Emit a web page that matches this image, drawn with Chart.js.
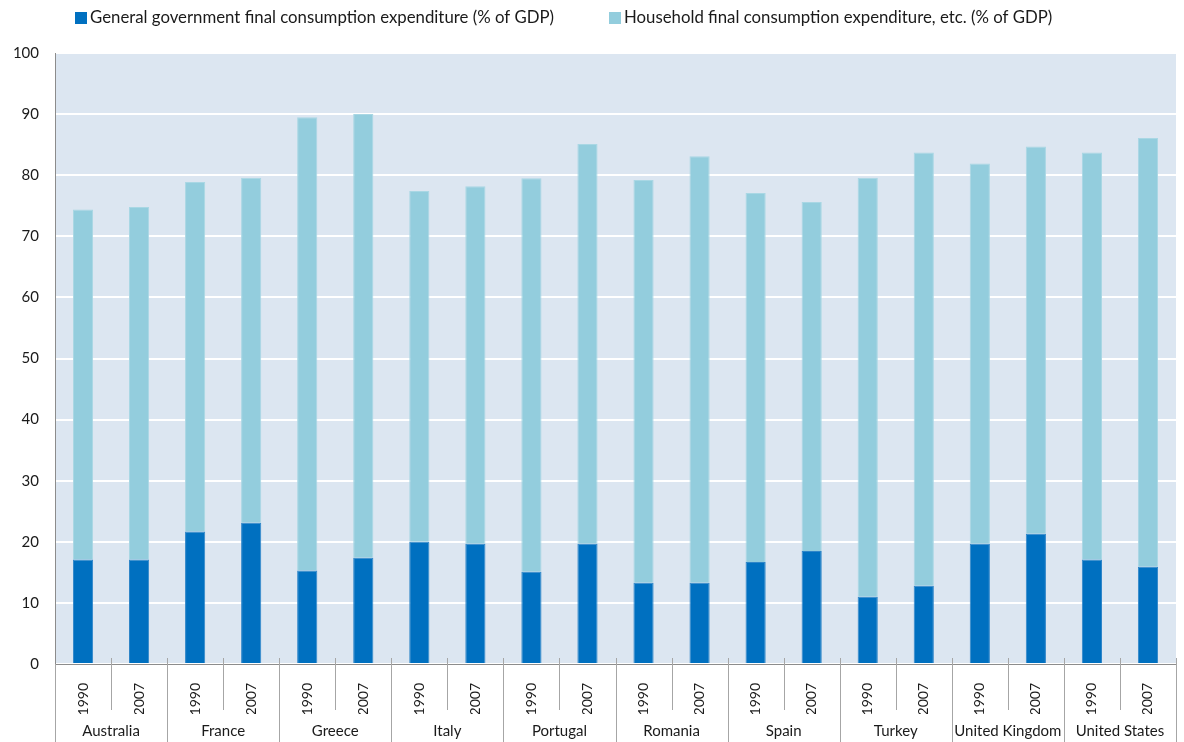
<!DOCTYPE html>
<html>
<head>
<meta charset="utf-8">
<script src="https://cdn.jsdelivr.net/npm/chart.js@4.4.1/dist/chart.umd.min.js"></script>
<style>
  html, body { margin: 0; padding: 0; background: #fff; }
  #wrap { width: 1184px; height: 742px; }
</style>
</head>
<body>
<div id="wrap"><canvas id="chart" width="1184" height="742"></canvas></div>
<script>
const countries = ['Australia', 'France', 'Greece', 'Italy', 'Portugal', 'Romania', 'Spain', 'Turkey', 'United Kingdom', 'United States'];
const years = ['1990', '2007'];
const government = [17.1, 17.1, 21.7, 23.1, 15.3, 17.4, 20.0, 19.7, 15.1, 19.7, 13.3, 13.3, 16.7, 18.5, 11.0, 12.8, 19.7, 21.3, 17.1, 15.9];
const household = [57.3, 57.7, 57.2, 56.5, 74.2, 72.6, 57.4, 58.5, 64.4, 65.4, 65.9, 69.8, 60.4, 57.1, 68.6, 70.9, 62.2, 63.4, 66.6, 70.2];
const yTicks = [0, 10, 20, 30, 40, 50, 60, 70, 80, 90, 100];

const FONT = 'Lato, "Open Sans", sans-serif';
const labels = [];
countries.forEach(c => years.forEach(y => labels.push(y)));

// light blue plot background
const plotBg = {
  id: 'plotBg',
  beforeDraw(chart) {
    const a = chart.chartArea, ctx = chart.ctx;
    ctx.save();
    ctx.fillStyle = '#dce6f1';
    ctx.fillRect(a.left, a.top, a.right - a.left, a.bottom - a.top);
    ctx.restore();
  }
};

// separators for the two-level category axis
const separators = {
  id: 'separators',
  afterDraw(chart) {
    const xs = chart.scales.x, ctx = chart.ctx;
    const bottom = chart.chartArea.bottom;
    ctx.save();
    ctx.strokeStyle = '#a6a6a6';
    ctx.lineWidth = 1;
    for (let i = 0; i <= labels.length; i++) {
      let x;
      if (i === 0) x = chart.chartArea.left;
      else if (i === labels.length) x = chart.chartArea.right;
      else x = (xs.getPixelForValue(i - 1) + xs.getPixelForValue(i)) / 2;
      x = Math.round(x) + 0.5;
      const end = (i % 2 === 0) ? chart.height : bottom + 46;
      ctx.beginPath();
      ctx.moveTo(x, i === 0 ? bottom : bottom - 6);
      ctx.lineTo(x, end);
      ctx.stroke();
    }
    ctx.restore();
  }
};

// legend drawn at top-left, like the original
const topLegend = {
  id: 'topLegend',
  afterDraw(chart) {
    const ctx = chart.ctx;
    const starts = [75, 609];
    ctx.save();
    ctx.font = '16.8px ' + FONT;
    ctx.textBaseline = 'middle';
    chart.data.datasets.forEach((ds, i) => {
      const x = starts[i];
      ctx.fillStyle = ds.backgroundColor;
      ctx.fillRect(x, 12, 12, 12);
      ctx.fillStyle = '#1a1a1a';
      ctx.fillText(ds.label, x + 15, 18);
    });
    ctx.restore();
  }
};

new Chart(document.getElementById('chart'), {
  type: 'bar',
  data: {
    labels: labels,
    datasets: [
      {
        label: 'General government final consumption expenditure (% of GDP)',
        data: government,
        backgroundColor: '#0070c0',
        borderColor: '#2f86c9',
        borderWidth: 1,
        categoryPercentage: 1,
        barPercentage: 0.36
      },
      {
        label: 'Household final consumption expenditure, etc. (% of GDP)',
        data: household,
        backgroundColor: '#93cddd',
        borderColor: '#a9d7e4',
        borderWidth: 1,
        categoryPercentage: 1,
        barPercentage: 0.36
      }
    ]
  },
  options: {
    responsive: false,
    animation: false,
    layout: { padding: { top: 53, left: 0, right: 8, bottom: 0 } },
    plugins: {
      legend: { display: false },
      tooltip: { enabled: false }
    },
    scales: {
      x: {
        stacked: true,
        afterFit(axis) { axis.height = 50; },
        grid: { display: false, drawTicks: false },
        border: { display: true, color: '#8c8c8c', width: 1 },
        ticks: {
          color: '#1a1a1a',
          font: { family: FONT, size: 14 },
          minRotation: 90,
          maxRotation: 90,
          padding: 19,
          autoSkip: false
        }
      },
      x2: {
        type: 'category',
        labels: countries,
        position: 'bottom',
        offset: true,
        afterFit(axis) { axis.height = 28; },
        grid: { display: false, drawTicks: false },
        border: { display: false },
        ticks: {
          color: '#1a1a1a',
          font: { family: FONT, size: 15 },
          padding: 8,
          maxRotation: 0,
          autoSkip: false
        }
      },
      y: {
        stacked: true,
        min: 0,
        max: 100,
        afterFit(axis) { axis.width = 55; },
        afterBuildTicks(axis) {
          axis.ticks = yTicks.map(v => ({ value: v }));
        },
        grid: { color: '#ffffff', lineWidth: 2, drawTicks: false },
        border: { display: true, color: '#8c8c8c', width: 1 },
        ticks: {
          color: '#1a1a1a',
          font: { family: FONT, size: 15 },
          padding: 16
        }
      }
    }
  },
  plugins: [plotBg, separators, topLegend]
});
</script>
</body>
</html>
